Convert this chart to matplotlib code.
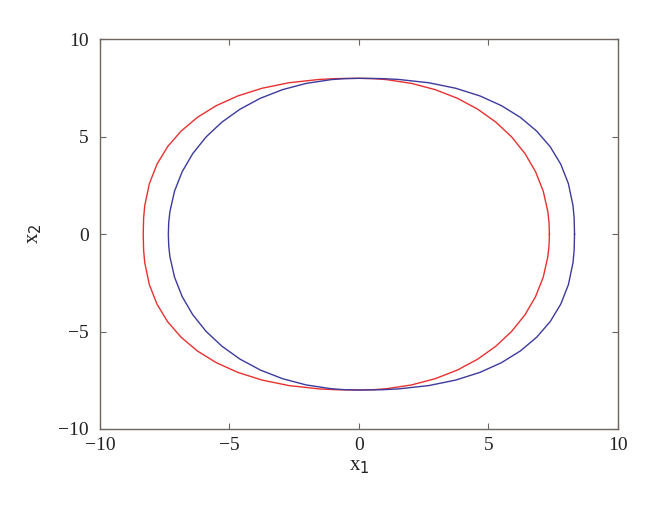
import matplotlib
matplotlib.use("Agg")
import matplotlib.pyplot as plt

# Upper half of the red trajectory (x1, x2),
# from the right end (x2 = 0) over the top to the left end.
red_x1_upper = [7.36, 7.345, 7.300, 7.121, 6.825, 6.418, 5.904, 5.291, 4.588,
                3.804, 2.948, 2.032, 1.059, 0.548, 0.0,
                -0.858, -1.527, -2.701, -3.741, -4.675, -5.508, -6.240,
                -6.868, -7.389, -7.798, -8.093, -8.271, -8.315, -8.33]
red_x2_upper = [0.0, 0.596, 1.151, 2.208, 3.205, 4.134, 4.987, 5.751, 6.417,
                6.976, 7.419, 7.740, 7.935, 7.984, 8.0,
                7.986, 7.943, 7.772, 7.489, 7.096, 6.596, 5.993,
                5.290, 4.490, 3.593, 2.594, 1.466, 0.824, 0.0]

# The blue trajectory is the mirror image of the red one (x1 -> -x1)
blue_x1_upper = [8.33, 8.315, 8.271, 8.093, 7.798, 7.389, 6.868, 6.240, 5.508,
                 4.675, 3.741, 2.701, 1.527, 0.858, 0.0,
                 -0.548, -1.059, -2.032, -2.948, -3.804, -4.588, -5.291,
                 -5.904, -6.418, -6.825, -7.121, -7.300, -7.345, -7.36]
blue_x2_upper = [0.0, 0.824, 1.466, 2.594, 3.593, 4.490, 5.290, 5.993, 6.596,
                 7.096, 7.489, 7.772, 7.943, 7.986, 8.0,
                 7.984, 7.935, 7.740, 7.419, 6.976, 6.417, 5.751,
                 4.987, 4.134, 3.205, 2.208, 1.151, 0.596, 0.0]

ticks = [-10, -5, 0, 5, 10]
tick_labels = ["\u221210", "\u22125", "0", "5", "10"]


def closed(xu, yu):
    """Close the curve with its lower half (mirror in x2)."""
    xs = list(xu) + list(xu[-2::-1])
    ys = list(yu) + [-v for v in yu[-2::-1]]
    return xs, ys


plt.rcParams['font.family'] = ['Liberation Serif', 'DejaVu Serif']

fig = plt.figure(figsize=(6.6, 5.11), dpi=100)
ax = fig.add_axes([0.1515, 0.1605, 0.7845, 0.7625])

rx, ry = closed(red_x1_upper, red_x2_upper)
bx, by = closed(blue_x1_upper, blue_x2_upper)
ax.plot(rx, ry, color='#e8312f', lw=1.0, solid_joinstyle='round')
ax.plot(bx, by, color='#3c3a9c', lw=1.0, solid_joinstyle='round')

ax.set_xlim(-10, 10)
ax.set_ylim(-10, 10)
ax.set_xticks(ticks)
ax.set_xticklabels(tick_labels)
ax.set_yticks(ticks)
ax.set_yticklabels(tick_labels)

axis_color = '#6e6460'
for s in ax.spines.values():
    s.set_color(axis_color)
    s.set_linewidth(1.0)
ax.tick_params(direction='in', length=4, width=0.8, color=axis_color,
               top=True, right=True, labelsize=14, labelcolor='#222222')
ax.tick_params(axis='y', pad=8)
ax.tick_params(axis='x', pad=6)

ax.set_xlabel(r'x$_1$', fontsize=15, color='#222222', labelpad=2)
ax.set_ylabel(r'x$_2$', fontsize=15, color='#222222', labelpad=10)

fig.savefig('out.png', dpi=100)
